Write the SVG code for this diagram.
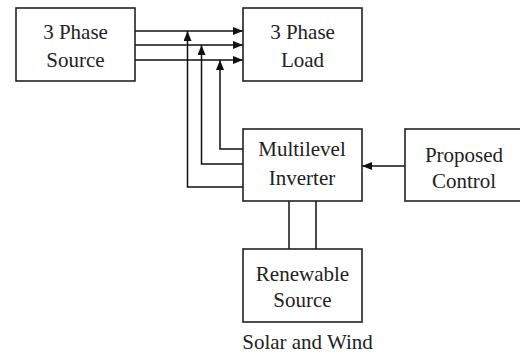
<svg xmlns="http://www.w3.org/2000/svg" width="520" height="355" viewBox="0 0 520 355">
<defs>
<style>
.box{fill:#fff;stroke:#222;stroke-width:1.6}
.ln{fill:none;stroke:#111;stroke-width:1.5}
text{font-family:"Liberation Serif","Times New Roman",serif;font-size:21px;fill:#222;text-anchor:middle}
</style>
<marker id="ah" viewBox="0 0 10 8" refX="10" refY="4" markerWidth="10" markerHeight="8" markerUnits="userSpaceOnUse" orient="auto">
<path d="M0,0 L10,4 L0,8 Z" fill="#111"/>
</marker>
</defs>
<rect width="520" height="355" fill="#fff"/>
<g id="connectors">
<line class="ln" x1="135" y1="31" x2="243" y2="31" marker-end="url(#ah)"/>
<line class="ln" x1="135" y1="45" x2="243" y2="45" marker-end="url(#ah)"/>
<line class="ln" x1="135" y1="60" x2="243" y2="60" marker-end="url(#ah)"/>
<polyline class="ln" points="243,149 220,149 220,60" marker-end="url(#ah)"/>
<polyline class="ln" points="243,164 201.5,164 201.5,45" marker-end="url(#ah)"/>
<polyline class="ln" points="243,187 187.5,187 187.5,31" marker-end="url(#ah)"/>
<line class="ln" x1="405" y1="166" x2="362" y2="166" marker-end="url(#ah)"/>
<line class="ln" x1="289" y1="201" x2="289" y2="249"/>
<line class="ln" x1="316" y1="201" x2="316" y2="249"/>
</g>
<g id="source">
<rect class="box" x="16" y="8" width="119" height="73"/>
<text x="75.5" y="39">3 Phase</text>
<text x="75.5" y="67">Source</text>
</g>
<g id="load">
<rect class="box" x="243" y="8" width="119" height="73"/>
<text x="302.5" y="39">3 Phase</text>
<text x="302.5" y="67">Load</text>
</g>
<g id="inverter">
<rect class="box" x="243" y="129" width="119" height="72"/>
<text x="302" y="156">Multilevel</text>
<text x="302" y="185">Inverter</text>
</g>
<g id="control">
<rect class="box" x="405" y="129" width="125" height="72"/>
<text x="464" y="162">Proposed</text>
<text x="464" y="188">Control</text>
</g>
<g id="renewable">
<rect class="box" x="243" y="249" width="119" height="73"/>
<text x="302.5" y="281">Renewable</text>
<text x="302.5" y="307">Source</text>
</g>
<text x="307.5" y="349">Solar and Wind</text>
</svg>
